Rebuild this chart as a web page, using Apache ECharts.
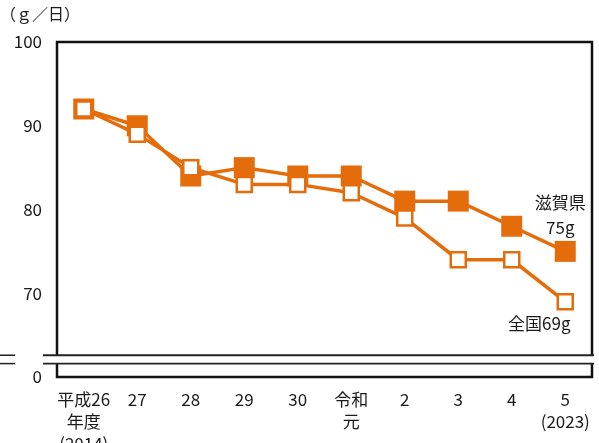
<!DOCTYPE html>
<html>
<head>
<meta charset="utf-8">
<script src="https://cdn.jsdelivr.net/npm/echarts@6/dist/echarts.min.js"></script>
<style>
  html, body { margin: 0; padding: 0; background: #fff; }
  #chart { width: 599px; height: 443px; }
</style>
</head>
<body>
<div id="chart"></div>
<script>
// Fiscal years (Heisei 26 = 2014 … Reiwa 5 = 2023)
const years = ['平成26\n年度\n(2014)', '27', '28', '29', '30', '令和\n元', '2', '3', '4', '5\n(2023)'];
// Daily intake, g per day
const shiga = [92, 90, 84, 85, 84, 84, 81, 81, 78, 75];
const national = [92, 89, 85, 83, 83, 82, 79, 74, 74, 69];
// Y axis ticks (the lowest one stands for 0 after the axis break)
const yTicks = [60, 70, 80, 90, 100];

const ORANGE = '#E46C0A';
const FONT = '"Noto Sans CJK JP", "Noto Sans", sans-serif';
const TEXT = '#1a1a1a';

const chart = echarts.init(document.getElementById('chart'), null, { renderer: 'canvas' });

const lastIdx = years.length - 1;
const shigaData = shiga.map((v, i) => i === lastIdx ? {
  value: v,
  label: {
    show: true, position: 'top', distance: 1, offset: [-5, 0],
    formatter: p => '滋賀県\n' + p.value + 'g',
    fontFamily: FONT, fontSize: 17, lineHeight: 25, color: TEXT, align: 'center'
  }
} : v);
const nationalData = national.map((v, i) => i === lastIdx ? {
  value: v,
  label: {
    show: true, position: 'bottom', distance: 5, offset: [-26, 0],
    formatter: p => '全国' + p.value + 'g',
    fontFamily: FONT, fontSize: 17, color: TEXT
  }
} : v);

chart.setOption({
  animation: false,
  backgroundColor: '#fff',
  title: {
    text: '（ｇ／日）', left: 0, top: 6, padding: 0,
    textStyle: { fontFamily: FONT, fontSize: 16, fontWeight: 'normal', color: TEXT }
  },
  grid: {
    left: 57, right: 7, top: 42, bottom: 66,
    outerBoundsMode: 'none', containLabel: false,
    show: true, borderColor: '#111', borderWidth: 2.5, backgroundColor: 'transparent'
  },
  xAxis: {
    type: 'category', data: years, boundaryGap: true,
    axisLine: { show: false }, axisTick: { show: false },
    axisLabel: { interval: 0, margin: 12, fontFamily: FONT, fontSize: 17, lineHeight: 22, color: TEXT }
  },
  yAxis: {
    type: 'value', min: yTicks[0], max: yTicks[yTicks.length - 1], interval: 10,
    axisLine: { show: false }, axisTick: { show: false }, splitLine: { show: false },
    axisLabel: {
      margin: 15, fontFamily: FONT, fontSize: 17, color: TEXT,
      formatter: v => (v === yTicks[0] ? '0' : String(v))
    }
  },
  series: [
    {
      name: '滋賀県', type: 'line', data: shigaData, z: 3,
      symbol: 'rect', symbolSize: 21,
      lineStyle: { color: ORANGE, width: 3.5 },
      itemStyle: { color: ORANGE, borderColor: ORANGE, borderWidth: 0 }
    },
    {
      name: '全国', type: 'line', data: nationalData, z: 4,
      symbol: 'rect', symbolSize: 15,
      lineStyle: { color: ORANGE, width: 3.5 },
      itemStyle: { color: '#fff', borderColor: ORANGE, borderWidth: 2.5 }
    }
  ]
});

// Axis break: a white band with two parallel rules across the frame
function drawBreak() {
  const yTop = chart.convertToPixel({ yAxisIndex: 0 }, 62.6);
  const yBot = chart.convertToPixel({ yAxisIndex: 0 }, 61.6);
  const x0 = 43, x1 = 594;
  chart.setOption({
    graphic: [
      { type: 'rect', shape: { x: x0, y: yTop, width: x1 - x0, height: yBot - yTop },
        style: { fill: '#fff' }, z: 10 },
      { type: 'line', shape: { x1: x0, y1: yTop, x2: x1, y2: yTop },
        style: { stroke: '#222', lineWidth: 1.8 }, z: 11 },
      { type: 'line', shape: { x1: x0, y1: yBot, x2: x1, y2: yBot },
        style: { stroke: '#222', lineWidth: 1.8 }, z: 11 },
      { type: 'line', shape: { x1: 0, y1: yTop, x2: 15, y2: yTop },
        style: { stroke: '#222', lineWidth: 1.5 }, z: 11 },
      { type: 'line', shape: { x1: 0, y1: yBot, x2: 15, y2: yBot },
        style: { stroke: '#222', lineWidth: 1.5 }, z: 11 }
    ]
  });
}
drawBreak();
</script>
</body>
</html>
